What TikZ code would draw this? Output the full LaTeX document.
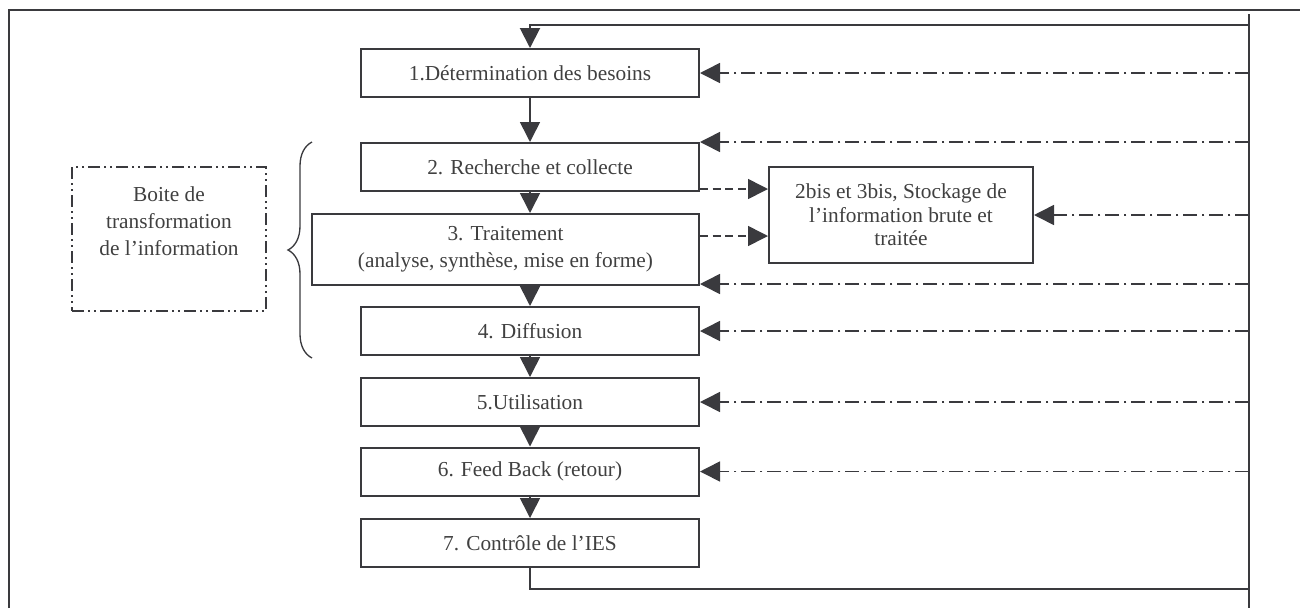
\documentclass[tikz,border=0pt]{standalone}
\usepackage{fontspec}
\setmainfont{Liberation Serif}
\usetikzlibrary{arrows.meta,decorations.pathreplacing}
\definecolor{linegray}{RGB}{58,58,62}
\definecolor{textgray}{RGB}{64,64,64}

\begin{document}
\begin{tikzpicture}[x=0.75pt,y=-0.75pt,
    etape/.style={draw=linegray, line width=1.5pt, minimum width=253.5pt, minimum height=36pt,
        inner sep=0pt, align=center, text=textgray, font=\fontsize{16}{20}\selectfont},
    flow/.style={draw=linegray, line width=1.2pt, -{Triangle[length=15pt,width=15pt]}},
    fb/.style={draw=linegray, line width=1.2pt, dash pattern=on 10.5pt off 3.5pt on 2pt off 3.5pt,
        -{Triangle[length=15pt,width=15pt]}},
    stock/.style={draw=linegray, line width=1.2pt, dash pattern=on 6pt off 3.5pt,
        -{Triangle[length=15pt,width=15pt]}},
    bus/.style={draw=linegray, line width=1.5pt}]
    \useasboundingbox (0,0) rectangle (1300,608);
    % cadre
    \draw[linegray, line width=1.5pt] (9,608) -- (9,10) -- (1300,10);

    % etapes
    \node[etape] (b1) at (530,73) {1.Détermination des besoins};
    \node[etape] (b2) at (530,167) {2. Recherche et collecte};
    \node[etape, minimum width=290.25pt, minimum height=53.25pt] (b3) at (505.5,249.5)
        {3. Traitement\\(analyse, synthèse, mise en forme)};
    \node[etape] (b4) at (530,331) {4. Diffusion};
    \node[etape] (b5) at (530,402) {5.Utilisation};
    \node[etape] (b6) at (530,471.5) {6. Feed Back (retour)};
    \node[etape] (b7) at (530,543) {7. Contrôle de l’IES};
    \node[etape, minimum width=198pt, minimum height=72pt, font=\fontsize{16}{17.5}\selectfont]
        (store) at (901,215) {2bis et 3bis, Stockage de\\l’information brute et\\traitée};
    \node[etape, minimum width=145.5pt, minimum height=108pt,
        dash pattern=on 9pt off 3pt on 1.5pt off 3pt on 1.5pt off 3pt] (boite) at (169,239)
        {Boite de\\transformation\\de l’information\\[7pt]\mbox{}};

    % accolade
    \draw[linegray, line width=1pt, decorate, decoration={brace, amplitude=18pt}]
        (312,358) -- (312,142);

    % enchainement
    \draw[flow] (b1) -- (b2);
    \draw[flow] (b2.south) -- (b2.south |- b3.north);
    \draw[flow] (b2.south |- b3.south) -- (b4.north);
    \draw[flow] (b4) -- (b5);
    \draw[flow] (b5) -- (b6);
    \draw[flow] (b6) -- (b7);

    % boucle de retour
    \coordinate (bustop) at (1249,14);
    \coordinate (busbot) at (1249,608);
    \draw[bus] (bustop) -- (busbot);
    \draw[flow, line width=1.5pt] (1249,25) -| (b1.north);
    \draw[bus] (b7.south) |- (1249,589);

    \foreach \b in {b1,b4,b5,b6,store}
        \draw[fb] (bustop |- \b.east) -- (\b.east);
    \draw[fb] (bustop |- b2.north east) -- (b2.north east);
    \draw[fb] (bustop |- b3.south east) ++(0,-2) -- ([yshift=1.5pt]b3.south east);

    % stockage
    \draw[stock] (b2.east |- 0,189) -- (store.west |- 0,189);
    \draw[stock] (b3.east |- 0,236) -- (store.west |- 0,236);
\end{tikzpicture}
\end{document}
